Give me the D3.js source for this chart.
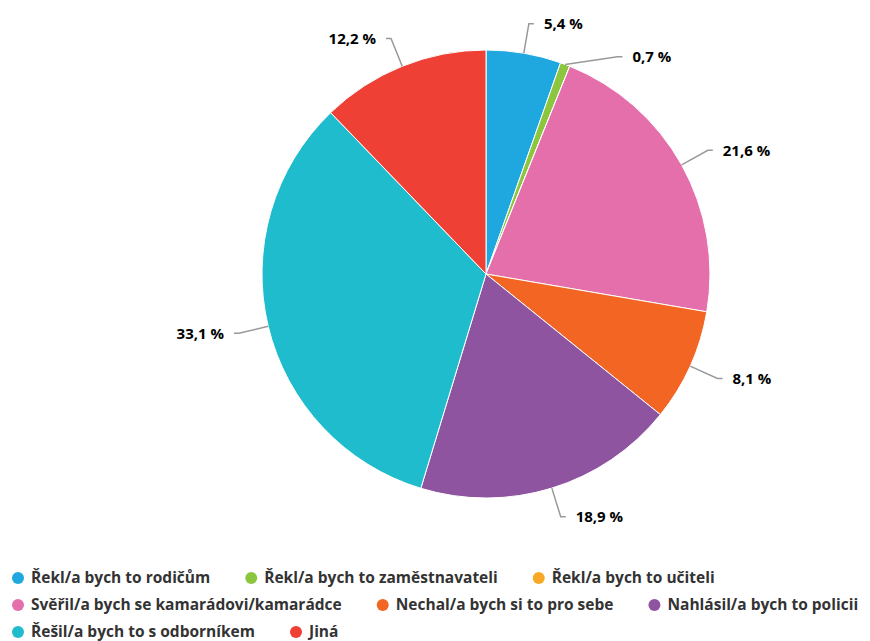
<!DOCTYPE html>
<meta charset="utf-8">
<style>
  body { margin: 0; background: #fff; }
  text { font-family: "Open Sans", sans-serif; }
</style>
<script src="https://d3js.org/d3.v7.min.js"></script>
<div id="chart"></div>
<script>
  // data
  var categories = ["Řekl/a bych to rodičům", "Řekl/a bych to zaměstnavateli", "Řekl/a bych to učiteli",
    "Svěřil/a bych se kamarádovi/kamarádce", "Nechal/a bych si to pro sebe", "Nahlásil/a bych to policii",
    "Řešil/a bych to s odborníkem", "Jiná"];
  var values = [5.4, 0.7, 0, 21.6, 8.1, 18.9, 33.1, 12.2];
  var colors = ["#1fa8df", "#8cc63f", "#f9a825", "#e46fab", "#f26522", "#8e54a0", "#1fbccd", "#ee4035"];

  var width = 870, height = 641;
  var cx = 486, cy = 274, r = 224, dist = 30;

  var svg = d3.select("#chart").append("svg")
    .attr("width", width)
    .attr("height", height);

  var data = categories.map(function (c, i) {
    return { name: c, value: values[i], color: colors[i] };
  });

  var pie = d3.pie().sort(null).value(function (d) { return d.value; });
  var arc = d3.arc().innerRadius(0).outerRadius(r);
  var arcs = pie(data);

  var g = svg.append("g").attr("transform", "translate(" + cx + "," + cy + ")");

  g.selectAll("path.slice")
    .data(arcs)
    .enter()
    .append("path")
    .attr("class", "slice")
    .attr("d", arc)
    .attr("fill", function (d) { return d.data.color; })
    .attr("stroke", "#fff")
    .attr("stroke-width", 1);

  // label positions, pushed apart on each side
  var labels = arcs.filter(function (d) { return d.data.value > 0; }).map(function (d) {
    var a = (d.startAngle + d.endAngle) / 2;
    return {
      d: d, a: a,
      right: Math.sin(a) >= 0,
      y: -Math.cos(a) * (r + dist)
    };
  });
  var minGap = 33;
  [true, false].forEach(function (side) {
    var list = labels.filter(function (l) { return l.right === side; })
      .sort(function (a, b) { return a.y - b.y; });
    for (var i = 1; i < list.length; i++) {
      if (list[i].y - list[i - 1].y < minGap) list[i].y = list[i - 1].y + minGap;
    }
  });
  labels.forEach(function (l) {
    var R = r + dist;
    var dx = Math.sqrt(Math.max(0, R * R - l.y * l.y));
    l.cx = l.right ? dx : -dx;
    l.tx = l.right ? dx + 15 : -dx - 15;
    l.ex = Math.sin(l.a) * r;
    l.ey = -Math.cos(l.a) * r;
  });

  g.selectAll("path.conn")
    .data(labels)
    .enter()
    .append("path")
    .attr("class", "conn")
    .attr("fill", "none")
    .attr("stroke", "#999")
    .attr("stroke-width", 1.5)
    .attr("d", function (l) {
      var endX = l.right ? l.tx - 10 : l.tx + 10;
      return "M" + endX + "," + l.y + "L" + l.cx + "," + l.y + "L" + l.ex + "," + l.ey;
    });

  g.selectAll("text.lbl")
    .data(labels)
    .enter()
    .append("text")
    .attr("class", "lbl")
    .attr("x", function (l) { return l.tx; })
    .attr("y", function (l) { return l.y; })
    .attr("dy", "0.35em")
    .attr("text-anchor", function (l) { return l.right ? "start" : "end"; })
    .style("font-size", "15px")
    .style("font-weight", "bold")
    .style("fill", "#000")
    .text(function (l) { return l.d.data.value.toFixed(1).replace(".", ",") + " %"; });

  // legend (flow layout)
  var legend = svg.append("g");
  var lx = 12, ly = 578, rowH = 27, maxX = 870, itemGap = 35;
  data.forEach(function (d) {
    var item = legend.append("g");
    item.append("circle")
      .attr("r", 6)
      .attr("cx", 6)
      .attr("cy", 0)
      .attr("fill", d.color);
    var t = item.append("text")
      .attr("x", 19)
      .attr("y", 0)
      .attr("dy", "0.35em")
      .style("font-size", "15.5px")
      .style("font-weight", "bold")
      .style("fill", "#333")
      .text(d.name);
    var w = 19 + t.node().getComputedTextLength();
    if (lx + w > maxX) { lx = 12; ly += rowH; }
    item.attr("transform", "translate(" + lx + "," + ly + ")");
    lx += w + itemGap;
  });
</script>
